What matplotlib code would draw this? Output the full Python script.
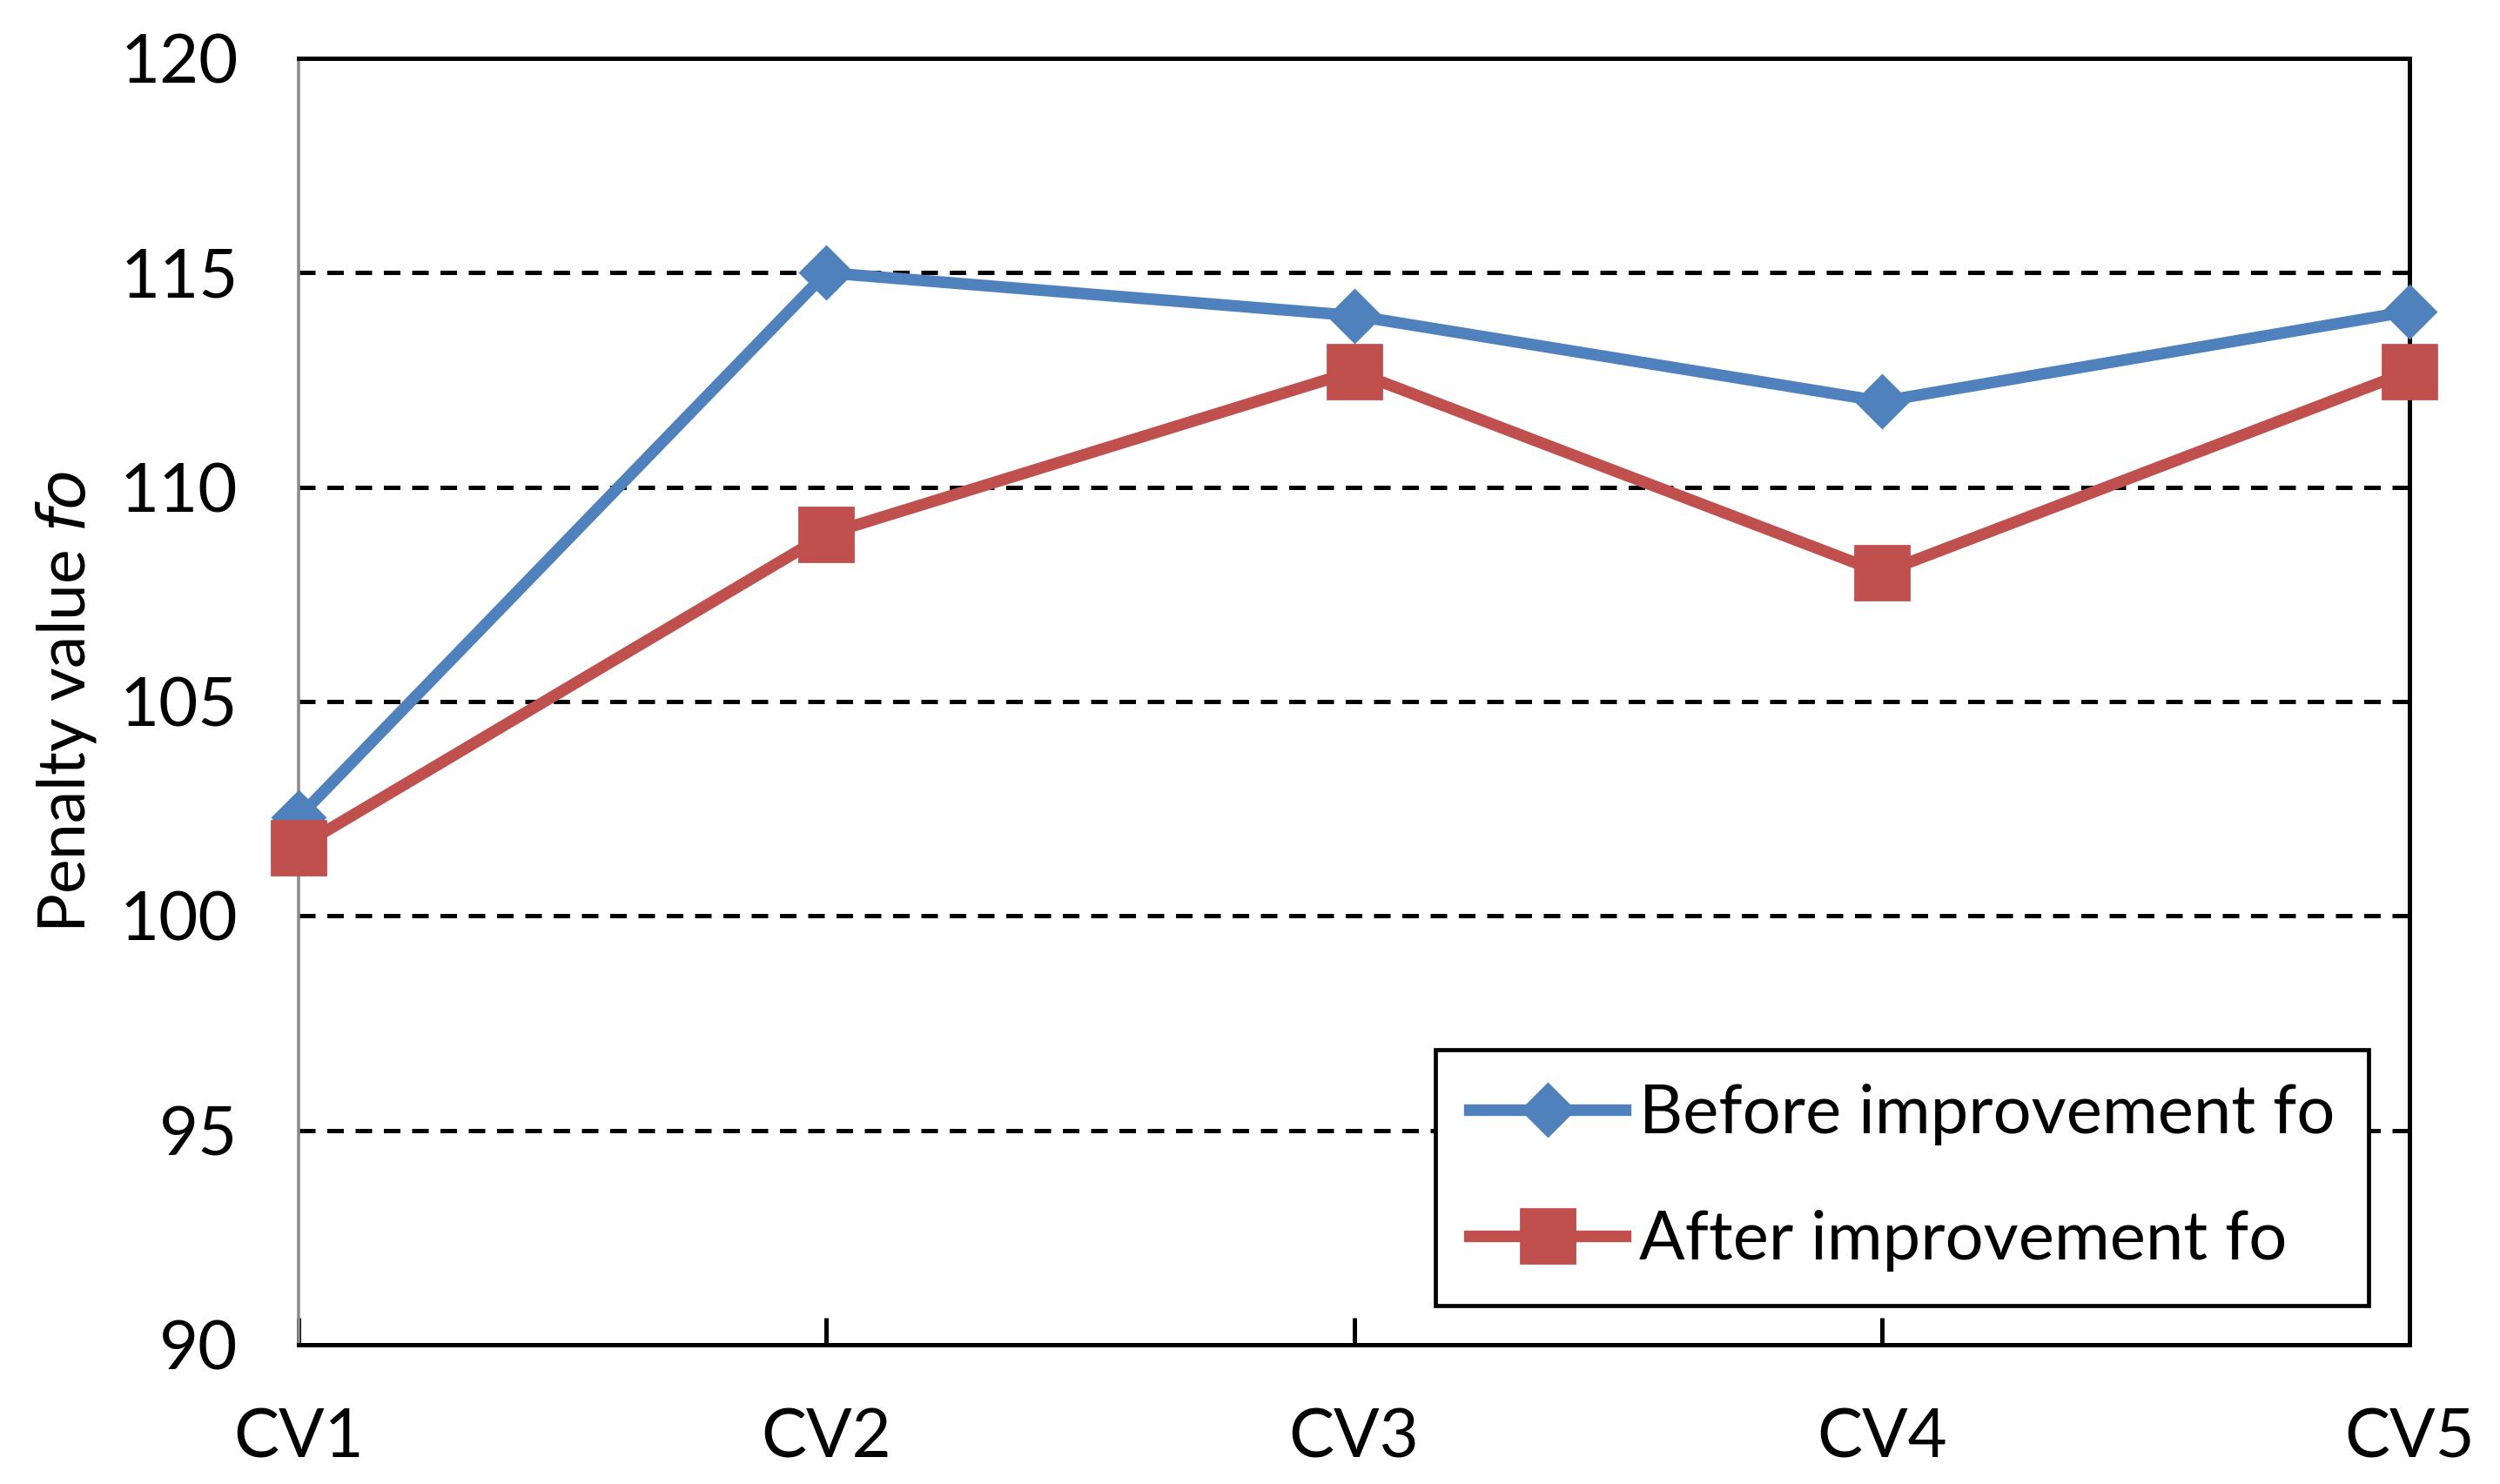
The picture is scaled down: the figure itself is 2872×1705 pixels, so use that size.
import matplotlib
matplotlib.use("Agg")
import matplotlib.pyplot as plt

categories = ["CV1", "CV2", "CV3", "CV4", "CV5"]
before_fo = [102.3, 115.0, 114.0, 112.0, 114.1]
after_fo = [101.6, 108.9, 112.7, 108.0, 112.7]
y_ticks = [90, 95, 100, 105, 110, 115, 120]
series_labels = ["Before improvement fo", "After improvement fo"]

plt.rcParams['font.family'] = ['Lato', 'DejaVu Sans']

W, H, DPI = 2872, 1705, 200
fig = plt.figure(figsize=(W / DPI, H / DPI), dpi=DPI)
fig.patch.set_facecolor('white')

left, right, bottom, top = 343, 2768, 1545, 67
ax = fig.add_axes([left / W, 1 - bottom / H, (right - left) / W, (bottom - top) / H])

x = list(range(len(categories)))
blue = '#4F81BD'
red = '#C0504D'

ax.plot(x, before_fo, color=blue, lw=4.8, marker='D', ms=15.5, mfc=blue, mec=blue,
        clip_on=False, zorder=4, label=series_labels[0])
ax.plot(x, after_fo, color=red, lw=4.8, marker='s', ms=22.5, mfc=red, mec=red,
        clip_on=False, zorder=5, label=series_labels[1])

ax.set_xlim(0, len(categories) - 1)
ax.set_ylim(y_ticks[0], y_ticks[-1])
ax.set_xticks(x)
ax.set_xticklabels(categories)
ax.set_yticks(y_ticks)
ax.set_yticklabels([str(v) for v in y_ticks])

ax.set_axisbelow(True)
ax.yaxis.grid(True, color='black', lw=1.8, linestyle=(0, (3.8, 2.7)))
ax.xaxis.grid(False)

for s in ['top', 'right', 'bottom']:
    ax.spines[s].set_color('black')
    ax.spines[s].set_linewidth(1.8)
ax.spines['left'].set_color('#8C8C8C')
ax.spines['left'].set_linewidth(1.3)

fs = 28
ax.tick_params(axis='x', direction='in', length=11, width=1.8, color='black',
               pad=26, labelsize=fs, top=False)
ax.tick_params(axis='y', length=0, pad=25, labelsize=fs)

ax.set_ylabel("Penalty value $\\mathit{fo}$", fontsize=27, labelpad=9)

leg = ax.legend(loc='lower right', bbox_to_anchor=(2721 / W, 1 - 1500 / H),
                bbox_transform=fig.transFigure, fontsize=fs, frameon=True,
                fancybox=False, edgecolor='black', framealpha=1.0,
                borderpad=0.5, handlelength=2.3, handletextpad=0.2,
                labelspacing=0.95, borderaxespad=0)
leg.get_frame().set_linewidth(1.7)
leg.set_zorder(10)

fig.savefig('out.png', dpi=DPI, facecolor='white')
